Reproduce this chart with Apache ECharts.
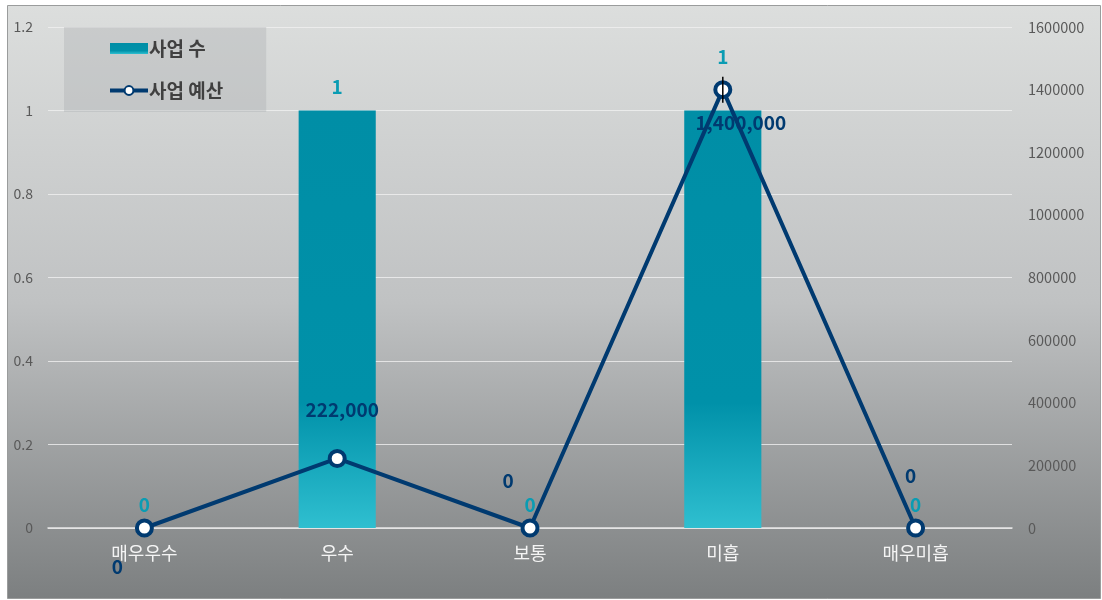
<!DOCTYPE html>
<html><head><meta charset="utf-8">
<script src="https://cdn.jsdelivr.net/npm/echarts@6/dist/echarts.min.js"></script>
<style>html,body{margin:0;padding:0;}#c{width:1102px;height:600px;}</style>
</head><body><div id="c"></div>
<script>
const categories = ['매우우수', '우수', '보통', '미흡', '매우미흡'];
const projectCount = [0, 1, 0, 1, 0];
const projectBudget = [0, 222000, 0, 1400000, 0];
const leftTicks = { min: 0, max: 1.2, interval: 0.2 };
const rightTicks = { min: 0, max: 1600000, interval: 200000 };

const FONT = '"Noto Sans CJK KR", "Noto Sans", sans-serif';
const teal = '#0a9cb3';
const navy = '#003a70';

const barLabelOffsets = [[0,0],[0,0],[0,0],[0,-30],[0,0]];
const lineLabelOffsets = [[-27,39],[5,-49],[-22,-47],[18,33],[-5,-52]];

const chart = echarts.init(document.getElementById('c'), null, {renderer:'canvas'});
chart.setOption({
  backgroundColor: 'transparent',
  textStyle: { fontFamily: FONT },
  graphic: [{
    type: 'rect', z: -10, silent: true,
    shape: { x: 7.5, y: 5.5, width: 1093, height: 593 },
    style: {
      fill: new echarts.graphic.LinearGradient(0,0,0,1,[
        {offset:0,color:'#dcdedd'},{offset:0.5,color:'#c0c2c3'},{offset:1,color:'#7c7f80'}]),
      stroke: '#9a9c9c', lineWidth: 1
    }
  }],
  legend: {
    orient: 'vertical', left: 64, top: 27,
    backgroundColor: 'rgba(170,172,175,0.35)',
    padding: [12, 43, 12, 44],
    itemWidth: 38, itemHeight: 11, itemGap: 23,
    textStyle: { fontSize: 19, fontWeight: 'bold', color: '#404040', fontFamily: FONT, padding: [0,0,0,-4] },
    data: [{ name: '사업 수', icon: 'rect' }, { name: '사업 예산', lineStyle: { width: 4 } }]
  },
  grid: { left: 48, right: 90, top: 27, bottom: 72 },
  xAxis: {
    type: 'category', data: categories,
    axisLine: { show: true, lineStyle: { color: '#e6e6e6', width: 1.5 } },
    axisTick: { show: false },
    axisLabel: { color: '#f4f4f4', fontSize: 18, margin: 16, fontFamily: FONT }
  },
  yAxis: [{
    type: 'value', min: leftTicks.min, max: leftTicks.max, interval: leftTicks.interval,
    axisLine: { show: false }, axisTick: { show: false },
    axisLabel: { color: '#595959', fontSize: 14, margin: 15, fontFamily: FONT },
    splitLine: { lineStyle: { color: 'rgba(240,240,240,0.8)', width: 1 } }
  }, {
    type: 'value', min: rightTicks.min, max: rightTicks.max, interval: rightTicks.interval,
    axisLine: { show: false }, axisTick: { show: false },
    axisLabel: { color: '#595959', fontSize: 14.5, margin: 16, fontFamily: FONT, formatter: v => String(v) },
    splitLine: { show: false }
  }],
  series: [{
    name: '사업 수', type: 'bar', yAxisIndex: 0, barWidth: '40%',
    itemStyle: {
      color: new echarts.graphic.LinearGradient(0,0,0,1,[
        {offset:0,color:'#008ea6'},{offset:0.7,color:'#0091a9'},{offset:1,color:'#2fbfd0'}])
    },
    data: projectCount.map((v,i)=>({ value: v,
      label: { show: true, position: 'top', distance: 14, offset: barLabelOffsets[i],
        color: teal, fontSize: 19, fontWeight: 'bold', fontFamily: FONT } }))
  }, {
    name: '사업 예산', type: 'line', yAxisIndex: 1,
    symbol: 'circle', symbolSize: 15,
    lineStyle: { color: navy, width: 4 },
    itemStyle: { color: '#ffffff', borderColor: navy, borderWidth: 4 },
    z: 5,
    data: projectBudget.map((v,i)=>({ value: v,
      label: { show: true, position: 'inside', offset: lineLabelOffsets[i],
        color: navy, fontSize: 19, fontWeight: 'bold', fontFamily: FONT,
        formatter: p => p.value.toLocaleString('en-US') } }))
  }, {
    name: 'err', type: 'custom', yAxisIndex: 1, z: 6, silent: true,
    data: [[3, projectBudget[3]]],
    renderItem: (params, api) => {
      const p = api.coord([api.value(0), api.value(1)]);
      return { type: 'line', shape: { x1: p[0], y1: p[1]-13, x2: p[0], y2: p[1]+13 },
        style: { stroke: '#000', lineWidth: 1.5 } };
    }
  }]
});
</script></body></html>
